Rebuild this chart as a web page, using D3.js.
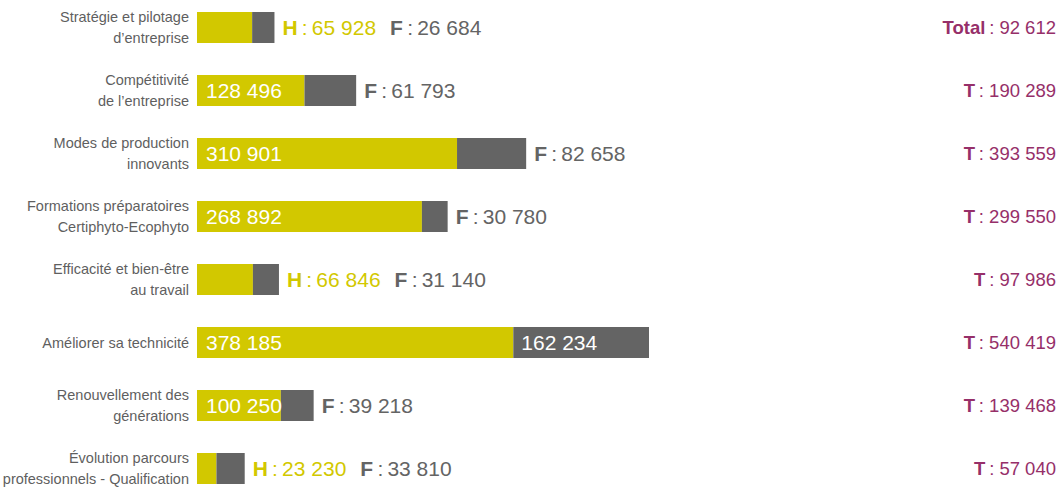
<!DOCTYPE html>
<html>
<head>
<meta charset="utf-8">
<script src="https://cdn.jsdelivr.net/npm/d3@7"></script>
<style>
  body { margin: 0; background: #fff; }
  svg { font-family: "Liberation Sans", Arial, sans-serif; }
</style>
</head>
<body>
<div class="chart"></div>
<script>
// data
const categories = [
  "Stratégie et pilotage\nd\u2019entreprise",
  "Compétitivité\nde l\u2019entreprise",
  "Modes de production\ninnovants",
  "Formations préparatoires\nCertiphyto-Ecophyto",
  "Efficacité et bien-être\nau travail",
  "Améliorer sa technicité",
  "Renouvellement des\ngénérations",
  "Évolution parcours\nprofessionnels - Qualification"
];
const hommes = [65928, 128496, 310901, 268892, 66846, 378185, 100250, 23230];
const femmes = [26684, 61793, 82658, 30780, 31140, 162234, 39218, 33810];
const totals = [92612, 190289, 393559, 299550, 97986, 540419, 139468, 57040];

const width = 1059, height = 490;
const yellow = "#d2c800", grey = "#646464", plum = "#962f69", labelGrey = "#5f5f5f";
const fmt = n => d3.format(",")(n).replace(/,/g, " ");

const svg = d3.select(".chart").append("svg")
  .attr("width", width)
  .attr("height", height);

const x = d3.scaleLinear()
  .domain([0, d3.max(totals)])
  .range([197, 649]);

const y = d3.scaleBand()
  .domain(d3.range(categories.length))
  .range([12, 484])
  .paddingInner(32 / 63)
  .paddingOuter(0);

const bw = y.bandwidth();
const valSize = 21, totSize = 18.5, catSize = 14.5;

const rows = svg.selectAll(".row")
  .data(categories.map((c, i) => ({ label: c, h: hommes[i], f: femmes[i], t: totals[i], i })))
  .join("g")
  .attr("class", "row")
  .attr("transform", d => `translate(0,${y(d.i)})`);

// category labels (left)
rows.each(function(d) {
  const g = d3.select(this);
  const lines = d.label.split("\n");
  const c = bw / 2;
  const t = g.append("text")
    .attr("text-anchor", "end")
    .attr("fill", labelGrey)
    .style("font-size", catSize + "px");
  if (lines.length === 1) {
    t.append("tspan").attr("x", 189).attr("y", c + 5).text(lines[0]);
  } else {
    t.append("tspan").attr("x", 189).attr("y", c - 6).text(lines[0]);
    t.append("tspan").attr("x", 189).attr("y", c + 15).text(lines[1]);
  }
});

// bars
rows.append("rect")
  .attr("x", x(0))
  .attr("y", 0)
  .attr("width", d => x(d.h) - x(0))
  .attr("height", bw)
  .attr("fill", yellow);

rows.append("rect")
  .attr("x", d => x(d.h))
  .attr("y", 0)
  .attr("width", d => x(d.h + d.f) - x(d.h))
  .attr("height", bw)
  .attr("fill", grey);

// value labels
function outsideLabel(g, xpos, letter, value, color) {
  const t = g.append("text")
    .attr("x", xpos)
    .attr("y", bw / 2 + valSize * 0.35)
    .attr("fill", color)
    .style("font-size", valSize + "px");
  t.append("tspan").style("font-weight", "bold").text(letter);
  t.append("tspan").text("\u2009:\u2009" + fmt(value));
  return t.node().getComputedTextLength();
}

rows.each(function(d) {
  const g = d3.select(this);
  const y0 = bw / 2 + valSize * 0.35;

  // the value goes inside its segment when it fits
  const hIn = g.append("text")
    .attr("x", x(0) + 9)
    .attr("y", y0)
    .attr("fill", "#fff")
    .style("font-size", valSize + "px")
    .text(fmt(d.h));
  const hFits = hIn.node().getComputedTextLength() <= x(d.h) - x(0) - 7;

  const fIn = g.append("text")
    .attr("x", x(d.h) + 8)
    .attr("y", y0)
    .attr("fill", "#fff")
    .style("font-size", valSize + "px")
    .text(fmt(d.f));
  const fFits = fIn.node().getComputedTextLength() <= x(d.h + d.f) - x(d.h) - 7;

  let cursor = x(d.h + d.f) + 8;
  if (!hFits) {
    hIn.remove();
    const w = outsideLabel(g, cursor, "H", d.h, yellow);
    cursor += w + 14;
  }
  if (!fFits) {
    fIn.remove();
    outsideLabel(g, cursor, "F", d.f, grey);
  }

  // totals on the right
  const tt = g.append("text")
    .attr("x", 1056)
    .attr("y", bw / 2 + totSize * 0.35)
    .attr("text-anchor", "end")
    .attr("fill", plum)
    .style("font-size", totSize + "px");
  tt.append("tspan").style("font-weight", "bold").text(d.i === 0 ? "Total" : "T");
  tt.append("tspan").text("\u2009: " + fmt(d.t));
});
</script>
</body>
</html>
